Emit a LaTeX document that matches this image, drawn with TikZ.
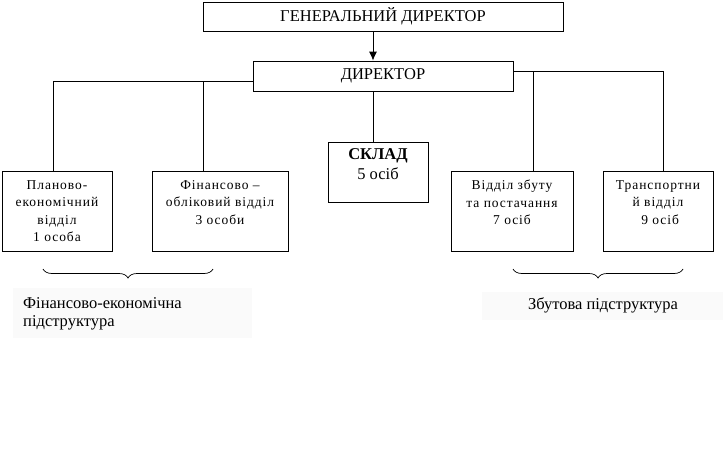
\documentclass[tikz,border=0pt]{standalone}
\usepackage{fontspec}
\setmainfont{Liberation Serif}
\newfontfamily\spaced[LetterSpace=7]{Liberation Serif}
\usetikzlibrary{decorations.pathreplacing,arrows.meta}
\begin{document}
\begin{tikzpicture}[x=1pt,y=-1pt,
  box/.style={draw,line width=0.8pt,inner sep=0pt},
  lbl/.style={align=center,font=\spaced\fontsize{13.5}{17.5}\selectfont,anchor=north,inner sep=0pt},
  big/.style={font=\fontsize{16.5}{18}\selectfont},
  conn/.style={line width=0.8pt}]
\useasboundingbox (0,0) rectangle (723,450);
% background panels
\fill[black!2] (13,288) rectangle (252,338);
\fill[black!2] (482,292) rectangle (723,320);
% boxes
\node[box,minimum width=360,minimum height=29] (gen) at (383,16.5) {};
\node[big] (gent) at (gen) {ГЕНЕРАЛЬНИЙ ДИРЕКТОР};
\node[box,minimum width=260,minimum height=30] (dir) at (383,76) {};
\node[big] (dirt) at (dir) {ДИРЕКТОР};
\node[box,minimum width=100,minimum height=60] (sklad) at (378,172) {};
\node[align=center,font=\fontsize{16.5}{20}\selectfont,anchor=north,inner sep=0pt] (skladt) at (378,148) {\textbf{СКЛАД}\\5 осіб};
\node[box,minimum width=110,minimum height=80] (plan) at (57,211) {};
\node[lbl] (plant) at (57,180) {Планово-\\економічний\\відділ\\1 особа};
\node[box,minimum width=136,minimum height=80] (fin) at (220,211) {};
\node[lbl] (fint) at (220,180) {Фінансово –\\обліковий відділ\\3 особи};
\node[box,minimum width=122,minimum height=80] (zbut) at (512,211) {};
\node[lbl] (zbutt) at (512,180) {Відділ збуту\\та постачання\\7 осіб};
\node[box,minimum width=110,minimum height=80] (trans) at (658,211) {};
\node[lbl] (transt) at (658,180) {Транспортни\\й відділ\\\ 9 осіб};
% connectors
\draw[conn,-{Latex[length=9pt,width=8pt]}] (gen.south -| 373,0) -- (dir.north -| 373,0);
\coordinate (lc) at (53,81);
\coordinate (rc) at (663,71);
\draw[conn] (dir.west |- lc) -- (lc) -- (plan.north -| lc);
\draw[conn] (fin.north -| 203,0) -- (203,81);
\draw[conn] (dir.east |- rc) -- (rc) -- (trans.north -| rc);
\draw[conn] (zbut.north -| 533,0) -- (533,71);
\draw[conn] (dir.south -| 373,0) -- (sklad.north -| 373,0);
% braces
\draw[line width=0.7pt,decorate,decoration={brace,mirror,amplitude=9pt}] (43,269) -- (213,269);
\draw[line width=0.7pt,decorate,decoration={brace,mirror,amplitude=9pt}] (513,269) -- (683,269);
% labels
\node[anchor=north west,align=left,font=\fontsize{16.5}{18.5}\selectfont,inner sep=0pt] (lfin) at (23,297) {Фінансово-економічна\\підструктура};
\node[font=\fontsize{16.5}{18}\selectfont] (lzbut) at (603,305) {Збутова підструктура};
\end{tikzpicture}
\end{document}
